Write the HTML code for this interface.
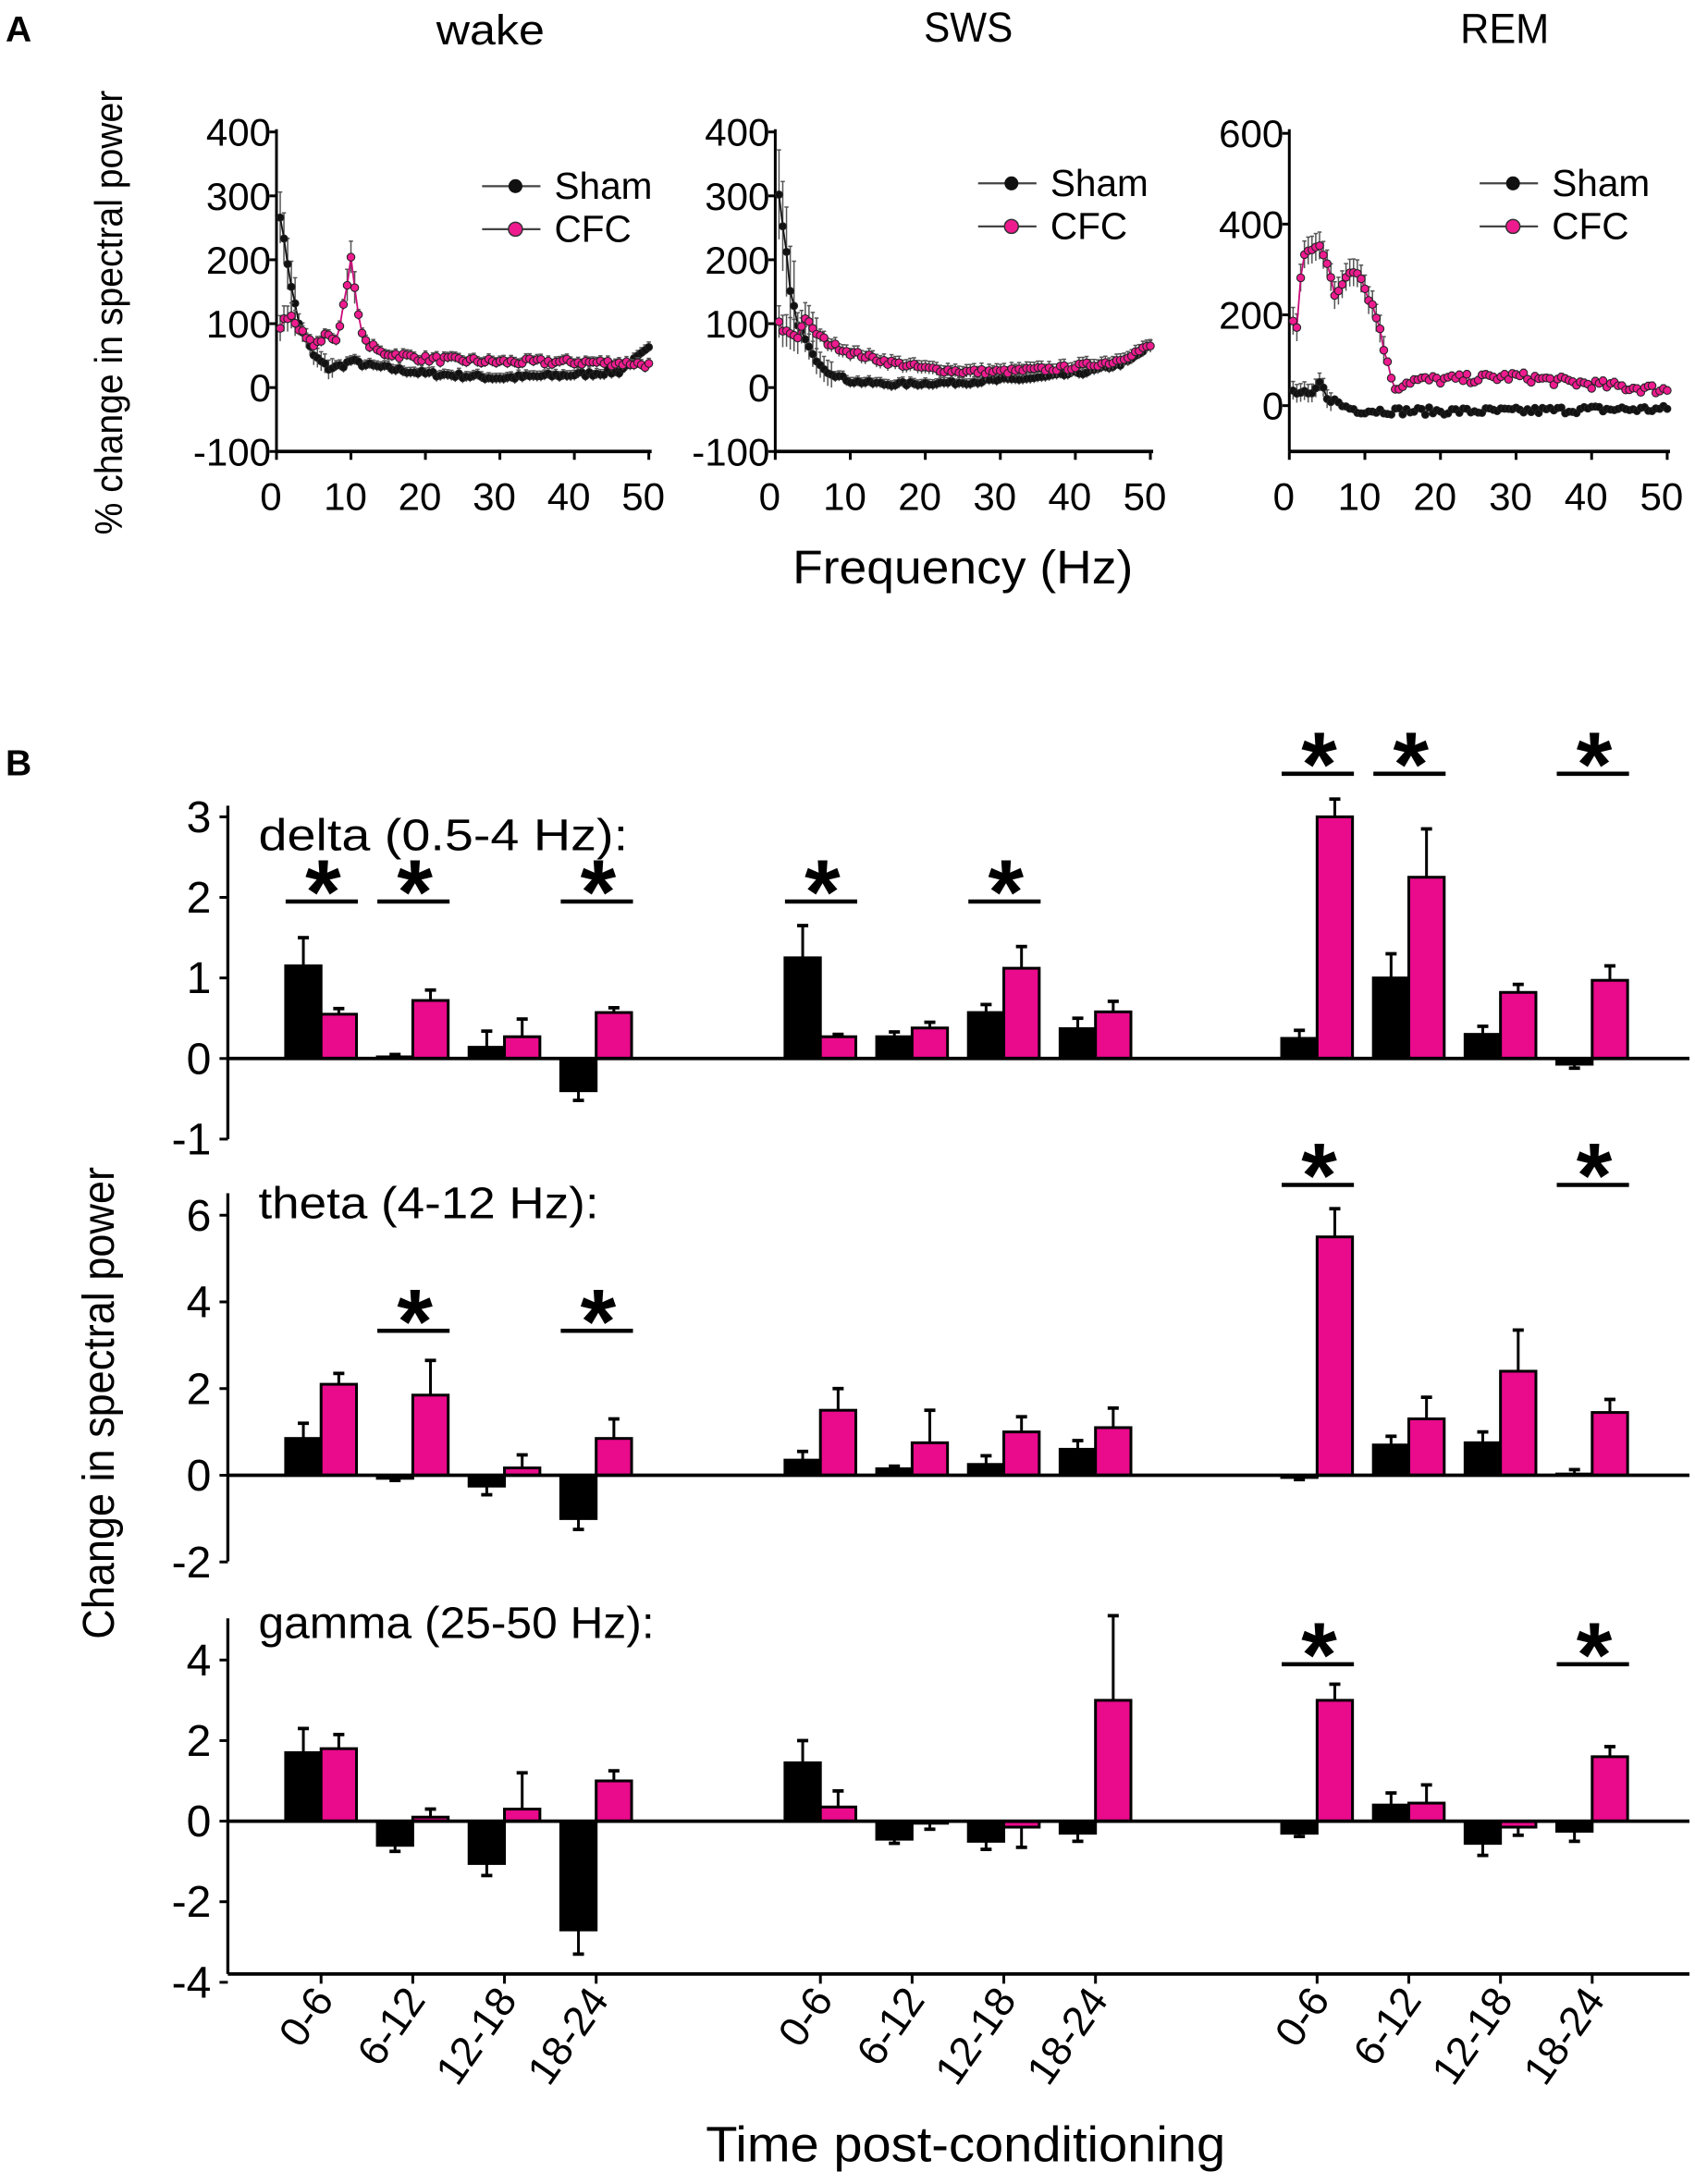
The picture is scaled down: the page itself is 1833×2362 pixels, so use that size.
<!DOCTYPE html>
<html><head><meta charset="utf-8">
<style>
html,body{margin:0;padding:0;background:#fff;}
svg{display:block;}
text{font-family:"Liberation Sans",Arial,sans-serif;fill:#000;}
</style></head>
<body>
<svg id="s" width="1833" height="2362" viewBox="0 0 1220 1572.2" preserveAspectRatio="none" xmlns="http://www.w3.org/2000/svg">
<rect width="1220" height="1573" fill="#fff"/>
<text x="4" y="30" font-size="26" font-weight="bold">A</text>
<text x="353" y="32" font-size="30" text-anchor="middle" textLength="78" lengthAdjust="spacingAndGlyphs">wake</text>
<text x="697" y="30" font-size="30" text-anchor="middle" textLength="64" lengthAdjust="spacingAndGlyphs">SWS</text>
<text x="1083" y="31" font-size="30" text-anchor="middle" textLength="64" lengthAdjust="spacingAndGlyphs">REM</text>
<text transform="translate(88,225) rotate(-90)" font-size="28" text-anchor="middle" textLength="320" lengthAdjust="spacingAndGlyphs">% change in spectral power</text>
<text x="693" y="420" font-size="34" text-anchor="middle" textLength="245" lengthAdjust="spacingAndGlyphs">Frequency (Hz)</text>
<text x="4" y="558" font-size="26" font-weight="bold">B</text>
<text transform="translate(82,1010) rotate(-90)" font-size="32" text-anchor="middle" textLength="340" lengthAdjust="spacingAndGlyphs">Change in spectral power</text>
<text x="695" y="1556" font-size="36" text-anchor="middle" textLength="374" lengthAdjust="spacingAndGlyphs">Time post-conditioning</text>
<g id="g"></g>
</svg>
<script>
var g=document.getElementById('g'),out='';
function L(x1,y1,x2,y2,c,w){out+='<line x1="'+x1+'" y1="'+y1+'" x2="'+x2+'" y2="'+y2+'" stroke="'+(c||'#000')+'" stroke-width="'+(w||2)+'"/>';}
function T(x,y,s,fs,anc,extra){out+='<text x="'+x+'" y="'+y+'" font-size="'+fs+'" text-anchor="'+(anc||'middle')+'" '+(extra||'')+'>'+s+'</text>';}
var seed=7;function rnd(){seed=(seed*16807)%2147483647;return seed/2147483647-0.5;}
function interp(pts,f){for(var i=0;i<pts.length-1;i++){if(f<=pts[i+1][0]){var t=(f-pts[i][0])/(pts[i+1][0]-pts[i][0]);return pts[i][1]+t*(pts[i+1][1]-pts[i][1]);}}return pts[pts.length-1][1];}
function panelA(x0,x50,yTop,vTop,yVal0,ppu,ticks,sham,cfc,noiseS,noiseC,errS,errC,legX,legY){
  L(x0,yTop-2,x0,325,'#000',2);L(x0,325,x50+2,325,'#000',2.5);
  ticks.forEach(function(v){var y=yVal0-v*ppu;L(x0-5,y,x0,y);T(x0-4,y+10,String(v),28,'end');});
  for(var k=0;k<=5;k++){var x=x0+k*(x50-x0)/5;L(x,325,x,331);T(x-4,367,String(k*10),28);}
  function series(pts,nz,err,fill,stroke,r){
    var P=[];for(var f=0.5;f<=50;f+=0.5){var v=interp(pts,f)+nz*rnd()*2;P.push([x0+f*(x50-x0)/50,yVal0-v*ppu,err(f)*ppu]);}
    P.forEach(function(p){L(p[0],p[1]-p[2],p[0],p[1]+p[2],'#555',1);L(p[0]-1.5,p[1]-p[2],p[0]+1.5,p[1]-p[2],'#555',1);});
    out+='<polyline fill="none" stroke="'+stroke+'" stroke-width="1.2" points="'+P.map(function(p){return p[0].toFixed(1)+','+p[1].toFixed(1)}).join(' ')+'"/>';
    P.forEach(function(p){out+='<circle cx="'+p[0].toFixed(1)+'" cy="'+p[1].toFixed(1)+'" r="'+r+'" fill="'+fill+'" stroke="#222" stroke-width="0.7"/>';});
  }
  series(sham,noiseS,errS,'#111','#111',2.6);
  series(cfc,noiseC,errC,'#ee1b8f','#cc0c7a',2.8);
  L(legX,legY,legX+42,legY,'#444',1.5);out+='<circle cx="'+(legX+24)+'" cy="'+legY+'" r="5" fill="#111"/>';
  T(legX+52,legY+9,'Sham',27,'start');
  L(legX,legY+31,legX+42,legY+31,'#444',1.5);out+='<circle cx="'+(legX+24)+'" cy="'+(legY+31)+'" r="5" fill="#ee1b8f" stroke="#333" stroke-width="1"/>';
  T(legX+52,legY+40,'CFC',27,'start');
}
var wS=[[0.5,270],[1,230],[2,160],[3,100],[5,50],[7,30],[9,35],[10,42],[12,35],[20,22],[30,15],[40,20],[46,25],[50,60]];
var wC=[[0.5,90],[1,110],[2,115],[3,95],[5,65],[6,75],[7,85],[8,70],[9,130],[10,200],[11,110],[12,70],[14,55],[20,45],[30,40],[40,40],[48,38],[50,35]];
panelA(199,467,95,400,279,0.46,[400,300,200,100,0,-100],wS,wC,4,5,
 function(f){return f<3?40:f<8?15:8},function(f){return f>9&&f<11?25:f<3?20:8},347,134);
var sS=[[0.5,300],[1,250],[1.5,210],[2,150],[3,100],[5,50],[7,25],[10,10],[15,5],[25,8],[35,15],[42,25],[47,40],[50,65]];
var sC=[[0.5,100],[1,90],[2,85],[3,80],[4,110],[5,90],[7,70],[10,55],[15,40],[20,30],[25,25],[30,25],[38,30],[45,40],[50,65]];
panelA(558,828,95,400,279,0.46,[400,300,200,100,0,-100],sS,sC,3,4,
 function(f){return f<3?70:f<8?20:8},function(f){return f<6?25:10},704,132);
var rS=[[0.5,30],[2,25],[3,20],[4,50],[5,20],[7,0],[9,-10],[15,-12],[30,-12],[40,-8],[50,-8]];
var rC=[[0.5,190],[1,170],[1.5,280],[2,330],[3,350],[4,360],[5,310],[6,240],[7,270],[8,300],[9,300],[10,260],[11,220],[12,170],[13,90],[14,40],[16,55],[25,60],[30,65],[35,55],[45,40],[50,35]];
panelA(928,1200,95,600,292,0.3267,[600,400,200,0],rS,rC,8,10,
 function(f){return f<6?20:6},function(f){return f<13?30:8},1065,132);

var AX=164;
var panels=[
 {z:762,ppu:58,ticks:[3,2,1,0,-1],top:580,bot:820,label:'delta (0.5-4 Hz):',ly:612,tl:266,
  d:[[1.15,.35,.55,.07],[.02,.03,.72,.13],[.14,.2,.27,.22],[-.4,.12,.57,.06],
     [1.25,.4,.27,.03],[.27,.06,.38,.07],[.57,.1,1.12,.27],[.37,.13,.58,.13],
     [.25,.1,3.0,.22],[1.0,.3,2.25,.6],[.3,.1,.82,.1],[-.07,.05,.97,.18]],
  stars:[[0,649],[1,649],[3,649],[4,649],[6,649],[8,557],[9,557],[11,557]]},
 {z:1062,ppu:31.2,ticks:[6,4,2,0,-2],top:859,bot:1124,label:'theta (4-12 Hz):',ly:877,tl:245,
  d:[[.85,.35,2.1,.25],[-.07,.05,1.85,.8],[-.25,.2,.17,.3],[-1.0,.25,.85,.45],
     [.35,.2,1.5,.5],[.15,.06,.75,.75],[.25,.2,1.0,.35],[.6,.2,1.1,.45],
     [-.05,.05,5.5,.65],[.7,.2,1.3,.5],[.75,.25,2.4,.95],[.03,.1,1.45,.3]],
  stars:[[1,958],[3,958],[8,853],[11,853]]},
 {z:1311,ppu:29,ticks:[4,2,0,-2,-4],top:1165,bot:1421,label:'gamma (25-50 Hz):',ly:1179,tl:285,
  d:[[1.7,.6,1.8,.35],[-.6,.15,.1,.2],[-1.05,.3,.3,.9],[-2.7,.6,1.0,.25],
     [1.45,.55,.35,.4],[-.45,.1,-.05,.15],[-.5,.2,-.15,.5],[-.3,.2,3.0,2.1],
     [-.3,.08,3.0,.4],[.4,.3,.45,.45],[-.55,.3,-.15,.2],[-.25,.25,1.6,.25]],
  stars:[[8,1198],[11,1198]]}
];
function bx(i){var grp=Math.floor(i/4),k=i%4;return [205.6,565,922.5][grp]+k*66;}
panels.forEach(function(p,pi){
  L(AX,p.top,AX,p.bot,'#000',2.2);
  p.ticks.forEach(function(v){var y=p.z-v*p.ppu;L(AX-6,y,AX,y);T(AX-12,y+11,String(v),32,'end');});
  T(186,p.ly,p.label,32,'start','textLength="'+p.tl+'" lengthAdjust="spacingAndGlyphs"');
  p.d.forEach(function(r,i){
    var x=bx(i),w=25.5;
    [[r[0],r[1],'#000'],[r[2],r[3],'#ea0a8c']].forEach(function(b,j){
      var xx=x+j*w,v=b[0],y=p.z-v*p.ppu,top=Math.min(y,p.z),h=Math.abs(y-p.z);
      var ey=v>=0?y-b[1]*p.ppu:y+b[1]*p.ppu;
      L(xx+w/2,y,xx+w/2,ey,'#000',2);L(xx+w/2-4,ey,xx+w/2+4,ey,'#000',2.5);
      out+='<rect x="'+xx.toFixed(1)+'" y="'+top.toFixed(1)+'" width="'+w+'" height="'+Math.max(h,0.5).toFixed(1)+'" fill="'+b[2]+'" stroke="#000" stroke-width="2"/>';
    });
  });
  L(AX,p.z,1216,p.z,'#000',2.5);
  p.stars.forEach(function(s){var x=bx(s[0]);L(x,s[1],x+52,s[1],'#000',3);T(x+27,s[1]+16,'*',66,'middle','font-weight="bold"');});
});
L(AX,1421,1216,1421,'#000',2.5);
var labs=['0-6','6-12','12-18','18-24'];
for(var i=0;i<12;i++){var x=bx(i)+25.5;L(x,1421,x,1428,'#000',2);
  T(0,0,labs[i%4],30,'end','transform="translate('+(x+10)+','+1440+') rotate(-55)"');}
g.innerHTML=out;
</script>
</body></html>
